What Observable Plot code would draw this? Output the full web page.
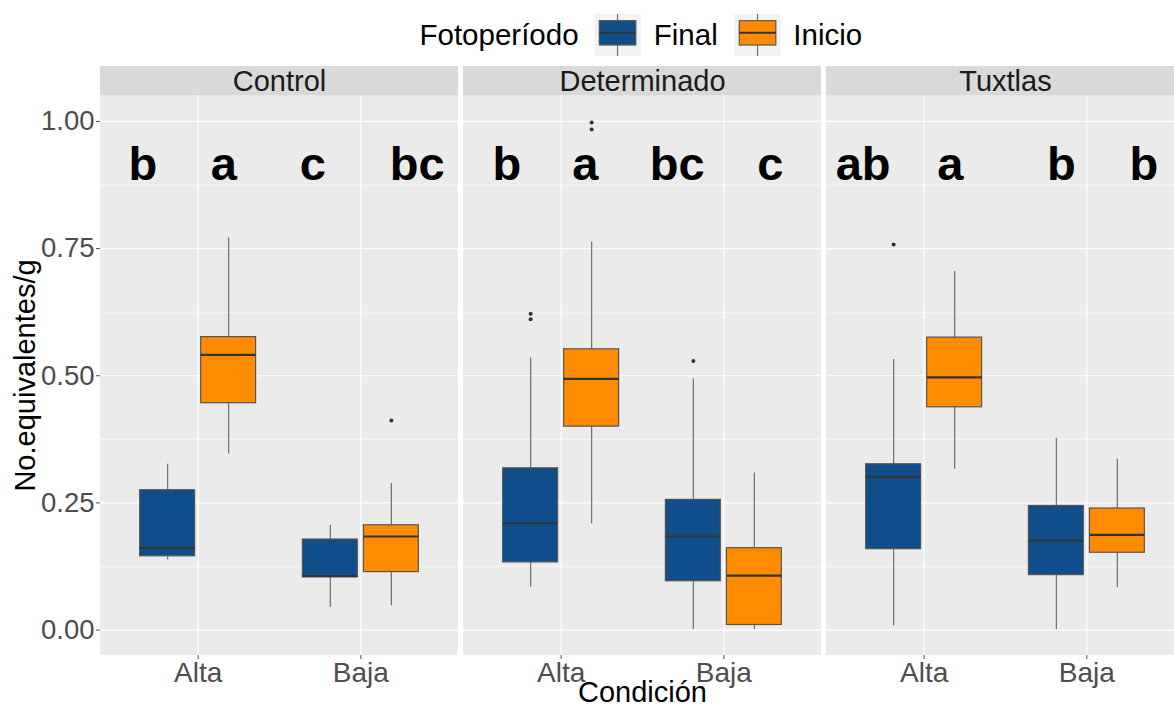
<!DOCTYPE html>
<html>
<head>
<meta charset="utf-8">
<script src="https://cdn.jsdelivr.net/npm/d3@7"></script>
<script src="https://cdn.jsdelivr.net/npm/@observablehq/plot@0.6"></script>
<style>
  html, body { margin: 0; padding: 0; background: #ffffff; overflow: hidden; }
  #fig { position: relative; width: 1174px; height: 706px; overflow: hidden; }
  #legend { position: absolute; left: 0; top: 0; }
  #chart { position: absolute; left: 0; top: 66px; width: 1185px; }
  #chart svg { max-width: none !important; }
  #titles { position: absolute; left: 0; top: 0; pointer-events: none; }
</style>
</head>
<body>
<div id="fig">
  <div id="chart"></div>
  <svg id="legend" width="1174" height="66"></svg>
  <svg id="titles" width="1174" height="706"></svg>
</div>
<script>
// Facets, conditions and photoperiod groups
const facets = ["Control", "Determinado", "Tuxtlas"];
const conditions = ["Alta", "Baja"];
const photoperiods = ["Final", "Inicio"];
const photoColors = ["#104E8B", "#FF8C00"];

// Box statistics, ordered facet → condición → fotoperíodo
const lowerWhisker = [0.138, 0.346, 0.045, 0.048, 0.084, 0.209, 0.001, 0.001, 0.008, 0.316, 0.001, 0.083];
const quartile1    = [0.145, 0.446, 0.104, 0.114, 0.133, 0.400, 0.096, 0.010, 0.159, 0.438, 0.108, 0.152];
const medians      = [0.161, 0.541, 0.106, 0.184, 0.210, 0.494, 0.184, 0.107, 0.301, 0.497, 0.176, 0.187];
const quartile3    = [0.275, 0.576, 0.178, 0.206, 0.318, 0.552, 0.256, 0.161, 0.326, 0.575, 0.244, 0.239];
const upperWhisker = [0.326, 0.771, 0.206, 0.288, 0.535, 0.763, 0.494, 0.309, 0.532, 0.705, 0.377, 0.336];
const outliers     = [[], [], [], [0.412], [0.622, 0.611], [0.998, 0.984], [0.529], [], [0.758], [], [], []];

// Significance letters (x along the condición axis, per facet)
const letterFacets = ["Control", "Control", "Control", "Control",
                      "Determinado", "Determinado", "Determinado", "Determinado",
                      "Tuxtlas", "Tuxtlas", "Tuxtlas", "Tuxtlas"];
const letterX      = [0.66, 1.158, 1.705, 2.346, 0.666, 1.148, 1.713, 2.285, 0.625, 1.161, 1.843, 2.35];
const letterText   = ["b", "a", "c", "bc", "b", "a", "bc", "c", "ab", "a", "b", "b"];
const letterY = 0.885;

// Axis ticks
const yTicks = [0, 0.25, 0.5, 0.75, 1];
const yMinor = [0.125, 0.375, 0.625, 0.875];

const FONT = "'Liberation Sans', Arial, Helvetica, sans-serif";
const DODGE = 0.1875;       // half of the dodge width (0.75 / 2)
const HALF_BOX = 0.16875;   // half box width after dodge padding
const Y_LO = -0.05, Y_PANEL_HI = 1.05, Y_STRIP_HI = 1.108;

// Build the long table
const boxes = [];
facets.forEach((f, i) => conditions.forEach((c, j) => photoperiods.forEach((p, k) => {
  const n = i * 4 + j * 2 + k;
  boxes.push({
    facet: f, cond: c, photo: p,
    pos: j + 1 + (k === 0 ? -DODGE : DODGE),
    lo: lowerWhisker[n], q1: quartile1[n], med: medians[n], q3: quartile3[n], hi: upperWhisker[n],
    out: outliers[n]
  });
})));
const outlierPts = boxes.flatMap(b => b.out.map(v => ({facet: b.facet, pos: b.pos, value: v})));
const letters = letterText.map((t, i) => ({facet: letterFacets[i], x: letterX[i], text: t}));

const plot = Plot.plot({
  width: 1185,
  height: 640,
  marginLeft: 99,
  marginRight: 0,
  marginTop: 0,
  marginBottom: 51,
  style: {fontFamily: FONT, background: "transparent", overflow: "visible"},
  fx: {domain: facets, axis: null, paddingInner: 0.0146, paddingOuter: 0},
  x: {domain: [0.4, 2.6]},
  y: {domain: [Y_LO, Y_STRIP_HI]},
  color: {domain: photoperiods, range: photoColors},
  marks: [
    // panel background and strip
    Plot.rect(facets, {fx: d => d, y1: Y_LO, y2: Y_PANEL_HI, fill: "#EBEBEB"}),
    Plot.rect(facets, {fx: d => d, y1: Y_PANEL_HI, y2: Y_STRIP_HI, fill: "#D9D9D9"}),
    Plot.text(facets, {fx: d => d, text: d => d, frameAnchor: "top", dy: 15,
      fontSize: 29, fill: "#1A1A1A", lineAnchor: "middle"}),
    // grid
    Plot.ruleY(yMinor, {y: d => d, stroke: "#ffffff", strokeWidth: 0.6}),
    Plot.ruleY(yTicks, {y: d => d, stroke: "#ffffff", strokeWidth: 1.2}),
    Plot.ruleX([1, 2], {x: d => d, y1: Y_LO, y2: Y_PANEL_HI, stroke: "#ffffff", strokeWidth: 1.2}),
    // whiskers
    Plot.ruleX(boxes, {fx: "facet", x: "pos", y1: "q3", y2: "hi", stroke: "#6E6E6E", strokeWidth: 1.2}),
    Plot.ruleX(boxes, {fx: "facet", x: "pos", y1: "lo", y2: "q1", stroke: "#6E6E6E", strokeWidth: 1.2}),
    // boxes
    Plot.rect(boxes, {fx: "facet", x1: d => d.pos - HALF_BOX, x2: d => d.pos + HALF_BOX,
      y1: "q1", y2: "q3", fill: "photo", stroke: "#555555", strokeWidth: 1.2}),
    // medians
    Plot.ruleY(boxes, {fx: "facet", y: "med", x1: d => d.pos - HALF_BOX, x2: d => d.pos + HALF_BOX,
      stroke: "#333333", strokeWidth: 2.2}),
    // outliers
    Plot.dot(outlierPts, {fx: "facet", x: "pos", y: "value", r: 2, fill: "#333333", stroke: null}),
    // letters
    Plot.text(letters, {fx: "facet", x: "x", y: () => letterY, text: "text",
      fontSize: 47, fontWeight: "bold", fill: "#000000", lineAnchor: "bottom"}),
    // axes
    Plot.axisY({ticks: yTicks, tickFormat: d3.format(".2f"), tickSize: 4, tickPadding: 2,
      fontSize: 27.5, color: "#4D4D4D", label: null}),
    Plot.axisX({ticks: [1, 2], tickFormat: d => conditions[d - 1], tickSize: 4, tickPadding: 3,
      fontSize: 28, color: "#4D4D4D", label: null})
  ]
});
plot.style.maxWidth = "none";
document.getElementById("chart").appendChild(plot);

// Legend: Fotoperíodo
const legend = d3.select("#legend").style("font-family", FONT);
legend.append("text").attr("x", 419.5).attr("y", 44.5).attr("font-size", 29.5)
  .attr("fill", "#000").text("Fotoperíodo");
const keyX = [594.3, 734.3];
const labelX = [653.8, 793.3];
photoperiods.forEach((p, i) => {
  const g = legend.append("g").attr("transform", `translate(${keyX[i]},14)`);
  g.append("rect").attr("width", 46.5).attr("height", 42).attr("fill", "#F2F2F2");
  g.append("line").attr("x1", 23.25).attr("x2", 23.25).attr("y1", 0).attr("y2", 6.7)
    .attr("stroke", "#6E6E6E").attr("stroke-width", 1.2);
  g.append("line").attr("x1", 23.25).attr("x2", 23.25).attr("y1", 31).attr("y2", 42)
    .attr("stroke", "#6E6E6E").attr("stroke-width", 1.2);
  g.append("rect").attr("x", 5).attr("y", 6.7).attr("width", 36.5).attr("height", 24.3)
    .attr("fill", photoColors[i]).attr("stroke", "#555555").attr("stroke-width", 1.2);
  g.append("line").attr("x1", 5).attr("x2", 41.5).attr("y1", 18.7).attr("y2", 18.7)
    .attr("stroke", "#333333").attr("stroke-width", 2);
  legend.append("text").attr("x", labelX[i]).attr("y", 44.5).attr("font-size", 29.5)
    .attr("fill", "#000").text(p);
});

// Axis titles
const titles = d3.select("#titles").style("font-family", FONT);
titles.append("text").attr("x", 642.5).attr("y", 701.7).attr("text-anchor", "middle")
  .attr("font-size", 29).attr("fill", "#000").text("Condición");
titles.append("text").attr("transform", "translate(34.5,375.5) rotate(-90)")
  .attr("text-anchor", "middle").attr("font-size", 29).attr("fill", "#000")
  .text("No.equivalentes/g");
</script>
</body>
</html>
